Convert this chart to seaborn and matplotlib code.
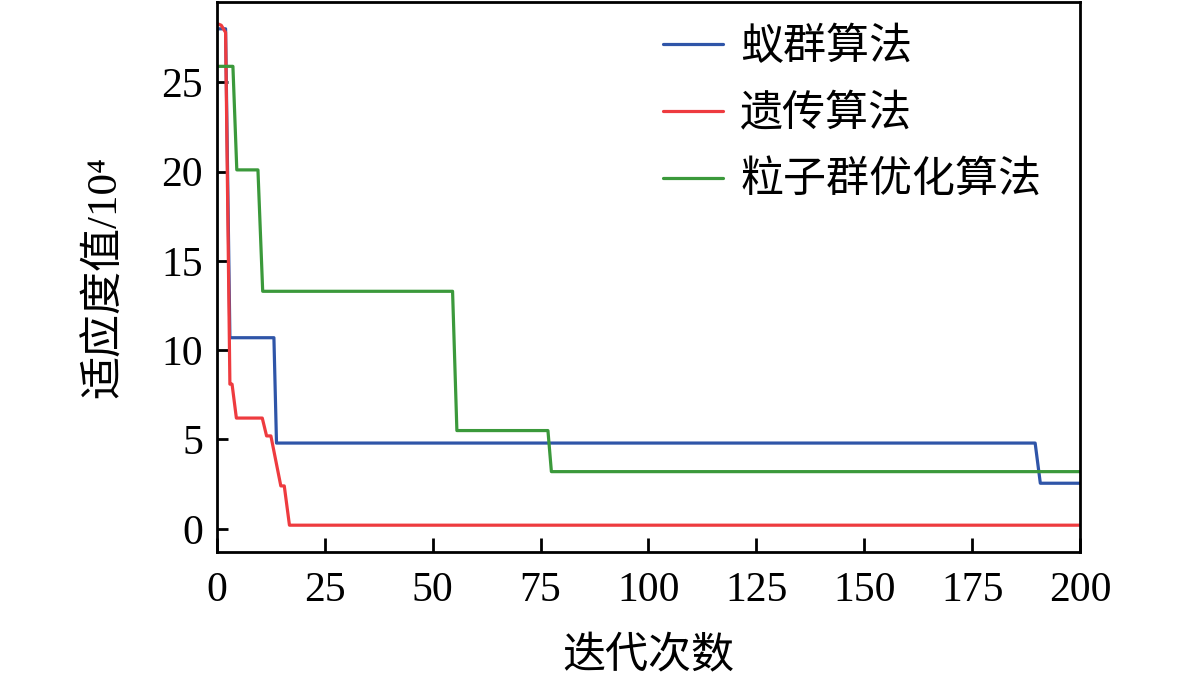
import matplotlib
matplotlib.use("Agg")
import matplotlib.pyplot as plt
import seaborn as sns
import pandas as pd

# Data (iteration, fitness/10^4)
aco_x = [0, 2, 3, 13.2, 13.8, 189.6, 190.8, 200]
aco_y = [28.0, 28.0, 10.7, 10.7, 4.8, 4.8, 2.55, 2.55]

ga_x = [0, 1, 2, 3, 3.5, 4.5, 10.5, 11.5, 12.5, 14.8, 15.6, 16.8, 200]
ga_y = [28.3, 28.2, 27.8, 8.1, 8.1, 6.2, 6.2, 5.2, 5.2, 2.4, 2.4, 0.2, 0.2]

pso_x = [0, 3.7, 4.6, 9.5, 10.6, 54.6, 55.6, 76.7, 77.5, 200]
pso_y = [25.9, 25.9, 20.1, 20.1, 13.3, 13.3, 5.5, 5.5, 3.2, 3.2]

labels = ["蚁群算法", "遗传算法", "粒子群优化算法"]
colors = ["#2f55a8", "#ee3b3f", "#3b993b"]
x_ticks = [0, 25, 50, 75, 100, 125, 150, 175, 200]
y_ticks = [0, 5, 10, 15, 20, 25]

sns.set_theme(style="white")
plt.rcParams['font.family'] = ['Liberation Serif', 'Noto Sans CJK SC', 'DejaVu Sans']
for k in ['text.color', 'axes.labelcolor', 'xtick.color', 'ytick.color']:
    plt.rcParams[k] = 'black'

fig = plt.figure(figsize=(11.81, 6.85), dpi=100)
ax = fig.add_axes([0.1837, 0.1942, 0.9145 - 0.1837, 0.997 - 0.1942])

for xs, ys, lab, c in zip([aco_x, ga_x, pso_x], [aco_y, ga_y, pso_y], labels, colors):
    df = pd.DataFrame({"x": xs, "y": ys})
    sns.lineplot(data=df, x="x", y="y", ax=ax, color=c, linewidth=2.3,
                 sort=False, estimator=None, label=lab)

ax.set_xlim(0, 200)
ax.set_ylim(-1.3, 29.5)
ax.set_xticks(x_ticks)
ax.set_yticks(y_ticks)
ax.tick_params(axis='both', direction='in', labelsize=30, width=2, colors='black',
               bottom=True, left=True, top=False, right=False)
ax.tick_params(axis='x', length=10, pad=14)
ax.tick_params(axis='y', length=8, pad=10)
for s in ax.spines.values():
    s.set_linewidth(2)
    s.set_color('black')
ax.set_xlabel("迭代次数", fontsize=31, labelpad=20)
ax.set_ylabel("适应度值/10⁴", fontsize=31, labelpad=26)

leg = ax.legend(loc='upper right', frameon=False, fontsize=31, handlelength=1.4,
                handletextpad=0.4, labelspacing=0.62, borderaxespad=0.2,
                bbox_to_anchor=(0.985, 1.0))

fig.savefig("out.png", dpi=100)
